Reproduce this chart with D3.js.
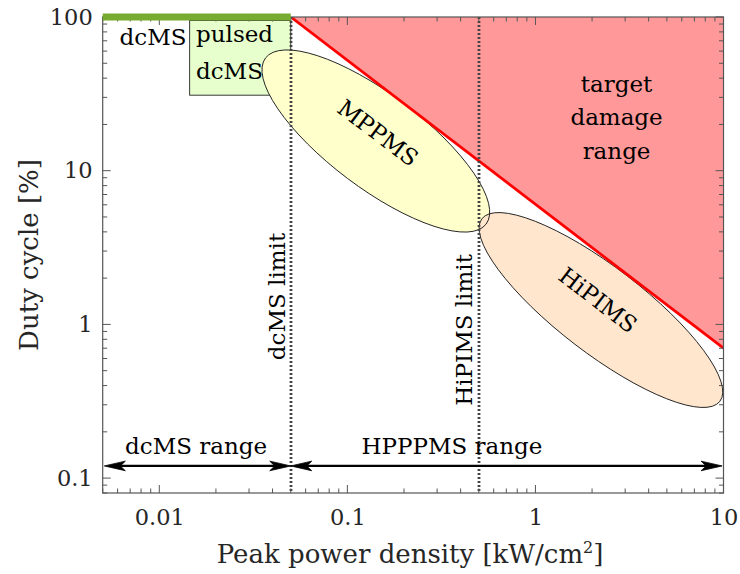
<!DOCTYPE html>
<html>
<head>
<meta charset="utf-8">
<script src="https://cdn.jsdelivr.net/npm/d3@7"></script>
<style>
  html, body { margin: 0; padding: 0; background: #fff; }
  svg { display: block; }
  text { font-family: "DejaVu Serif", "Liberation Serif", serif; }
</style>
</head>
<body>
<div id="chart"></div>
<script>
// Operating regimes of magnetron sputtering: duty cycle vs peak power density

const xDomain = [0.005, 10];
const yDomain = [0.08, 100];
const xTickLabels = [0.01, 0.1, 1, 10];
const yTickLabels = [0.1, 1, 10, 100];

// limits (kW/cm^2)
const dcmsLimit = 0.05;
const hipimsLimit = 0.5;

// damage threshold line: [peak power density, duty cycle]
const damageLine = [[0.05, 100], [10, 0.7]];

// continuous dcMS: 100 % duty cycle up to the dcMS limit
const dcmsLine = [[0.005, 100], [0.05, 100]];

// pulsed dcMS rectangle: x range, y range
const pulsedBoxX = [0.0145, 0.05];
const pulsedBoxY = [31, 95];

// elliptical regions: major-axis end points in data units, minor/major ratio
const regionNames = ["MPPMS", "HiPIMS"];
const regionTips = [
  [[0.0367, 54.1], [0.547, 4.5]],
  [[0.5195, 4.87], [9.57, 0.316]]
];
const regionRatio = [0.34, 0.287];
const regionLabelPos = [[0.1455, 17.6], [2.15, 1.44]];
const regionFill = ["#ffffcc", "#ffe6cc"];

// ranges shown as arrows at the bottom
const rangeNames = ["dcMS range", "HPPPMS range"];
const rangeSpans = [[0.0051, 0.05], [0.05, 9.83]];
const rangeArrowY = 0.12;
const rangeLabelPos = [[0.0157, 0.1435], [0.36, 0.1435]];

// free text annotations
const dcmsLabelPos = [0.00926, 65.7];
const pulsedLabelPos = [[0.01567, 68.5], [0.01567, 39.5]];
const pulsedLabelLines = ["pulsed", "dcMS"];
const damageLabelLines = ["target", "damage", "range"];
const damageLabelPos = [[2.70, 32.7], [2.70, 19.8], [2.70, 11.9]];
const limitLabels = ["dcMS limit", "HiPIMS limit"];
const limitLabelPos = [[0.0466, 1.52], [0.46, 0.92]];

const W = 740, H = 574;
const margin = { left: 102.7, top: 17, right: 16.5, bottom: 81 };
const labelSize = 23, tickSize = 22.5, titleSize = 26;

const svg = d3.select("#chart").append("svg")
  .attr("width", W).attr("height", H);

const x = d3.scaleLog().domain(xDomain).range([margin.left, W - margin.right]);
const y = d3.scaleLog().domain(yDomain).range([H - margin.bottom, margin.top]);

const x0 = x.range()[0], x1 = x.range()[1];
const y0 = y.range()[1], y1 = y.range()[0];

svg.append("defs").append("clipPath").attr("id", "plotclip")
  .append("rect").attr("x", x0).attr("y", y0).attr("width", x1 - x0).attr("height", y1 - y0);

const plot = svg.append("g").attr("clip-path", "url(#plotclip)");

// target damage area above the threshold line
const damageArea = [damageLine[0], damageLine[1], [damageLine[1][0], yDomain[1]], [damageLine[0][0], yDomain[1]]];
plot.append("path")
  .attr("d", d3.line().x(d => x(d[0])).y(d => y(d[1]))(damageArea) + "Z")
  .attr("fill", "#ff9999").attr("stroke", "none");

// pulsed dcMS box
plot.append("rect")
  .attr("x", x(pulsedBoxX[0])).attr("y", y(pulsedBoxY[1]))
  .attr("width", x(pulsedBoxX[1]) - x(pulsedBoxX[0]))
  .attr("height", y(pulsedBoxY[0]) - y(pulsedBoxY[1]))
  .attr("fill", "#e6ffcc").attr("stroke", "#222").attr("stroke-width", 0.9);

// ellipse geometry in pixel space from the data tips
const ellipses = regionTips.map((t, i) => {
  const ax = x(t[0][0]), ay = y(t[0][1]);
  const bx = x(t[1][0]), by = y(t[1][1]);
  const cx = (ax + bx) / 2, cy = (ay + by) / 2;
  const a = Math.hypot(bx - ax, by - ay) / 2;
  const ang = Math.atan2(by - ay, bx - ax) * 180 / Math.PI;
  return { cx, cy, a, b: a * regionRatio[i], ang, fill: regionFill[i] };
});

// fills first, then outlines so that overlaps keep both borders
ellipses.forEach(e => {
  plot.append("ellipse")
    .attr("cx", 0).attr("cy", 0).attr("rx", e.a).attr("ry", e.b)
    .attr("transform", `translate(${e.cx},${e.cy}) rotate(${e.ang})`)
    .attr("fill", e.fill).attr("stroke", "none");
});
ellipses.forEach(e => {
  plot.append("ellipse")
    .attr("cx", 0).attr("cy", 0).attr("rx", e.a).attr("ry", e.b)
    .attr("transform", `translate(${e.cx},${e.cy}) rotate(${e.ang})`)
    .attr("fill", "none").attr("stroke", "#222").attr("stroke-width", 0.9);
});

// damage threshold line
plot.append("path")
  .attr("d", d3.line().x(d => x(d[0])).y(d => y(d[1]))(damageLine))
  .attr("fill", "none").attr("stroke", "#ff0000").attr("stroke-width", 2.8);

// limit lines
[dcmsLimit, hipimsLimit].forEach(v => {
  plot.append("line")
    .attr("x1", Math.round(x(v))).attr("x2", Math.round(x(v))).attr("y1", y0).attr("y2", y1)
    .attr("stroke", "#444").attr("stroke-width", 2.8)
    .attr("stroke-dasharray", "2 2");
});

// region labels
regionNames.forEach((n, i) => {
  const px = x(regionLabelPos[i][0]), py = y(regionLabelPos[i][1]);
  svg.append("text")
    .attr("transform", `translate(${px},${py}) rotate(${ellipses[i].ang})`)
    .attr("text-anchor", "middle").attr("dominant-baseline", "central")
    .attr("font-size", labelSize).attr("fill", "#000")
    .text(n);
});

// axes: box with inward ticks on all four sides
const majorTickLen = 8, minorTickLen = 4.5;
function logTicks(domain) {
  const out = [];
  const lo = Math.floor(Math.log10(domain[0])), hi = Math.ceil(Math.log10(domain[1]));
  for (let p = lo; p <= hi; p++) {
    for (let m = 1; m <= 9; m++) {
      const v = +(m * Math.pow(10, p)).toPrecision(6);
      if (v >= domain[0] * 0.9999 && v <= domain[1] * 1.0001) out.push({ v, major: m === 1 });
    }
  }
  return out;
}
const xt = logTicks(xDomain), yt = logTicks(yDomain);
const axisColor = "#555";
const ticks = svg.append("g").attr("stroke", axisColor).attr("stroke-width", 1);
xt.forEach(t => {
  const L = t.major ? majorTickLen : minorTickLen;
  ticks.append("line").attr("x1", x(t.v)).attr("x2", x(t.v)).attr("y1", y1).attr("y2", y1 - L);
  ticks.append("line").attr("x1", x(t.v)).attr("x2", x(t.v)).attr("y1", y0).attr("y2", y0 + L);
});
yt.forEach(t => {
  const L = t.major ? majorTickLen : minorTickLen;
  ticks.append("line").attr("y1", y(t.v)).attr("y2", y(t.v)).attr("x1", x0).attr("x2", x0 + L);
  ticks.append("line").attr("y1", y(t.v)).attr("y2", y(t.v)).attr("x1", x1).attr("x2", x1 - L);
});
svg.append("rect").attr("x", x0).attr("y", y0).attr("width", x1 - x0).attr("height", y1 - y0)
  .attr("fill", "none").attr("stroke", axisColor).attr("stroke-width", 1.2);

// dcMS line at 100 %, drawn over the frame
svg.append("path")
  .attr("d", d3.line().x(d => x(d[0])).y(d => y(d[1]))(dcmsLine))
  .attr("fill", "none").attr("stroke", "#77ac30").attr("stroke-width", 7);

// tick labels via d3 axes
const fmt = d => String(d);
const xAxis = svg.append("g").attr("transform", `translate(0,${y1})`)
  .call(d3.axisBottom(x).tickValues(xTickLabels).tickFormat(fmt).tickSize(0).tickPadding(16));
const yAxis = svg.append("g").attr("transform", `translate(${x0},0)`)
  .call(d3.axisLeft(y).tickValues(yTickLabels).tickFormat(fmt).tickSize(0).tickPadding(10));
[xAxis, yAxis].forEach(g => {
  g.select(".domain").remove();
  g.attr("font-family", null);
  g.selectAll("text").attr("font-size", tickSize).attr("fill", "#262626");
});

// axis titles
svg.append("text")
  .attr("x", (x0 + x1) / 2 - 3).attr("y", 563)
  .attr("text-anchor", "middle").attr("font-size", titleSize)
  .attr("fill", "#262626")
  .call(t => {
    t.append("tspan").text("Peak power density [kW/cm");
    t.append("tspan").attr("font-size", 16).attr("dy", -10).text("2");
    t.append("tspan").attr("dy", 10).text("]");
  });
svg.append("text")
  .attr("transform", `translate(38,${(y0 + y1) / 2}) rotate(-90)`)
  .attr("text-anchor", "middle").attr("font-size", titleSize)
  .attr("fill", "#262626")
  .text("Duty cycle [%]");

// arrows for ranges
function arrowHead(g, tipX, tipY, dir) {
  const L = 21, hw = 4.8, notch = 5;
  const pts = [
    [tipX, tipY],
    [tipX - dir * L, tipY - hw],
    [tipX - dir * (L - notch), tipY],
    [tipX - dir * L, tipY + hw]
  ];
  g.append("path").attr("d", "M" + pts.map(p => p.join(",")).join("L") + "Z")
    .attr("fill", "#000").attr("stroke", "#000").attr("stroke-width", 0.8)
    .attr("stroke-linejoin", "miter");
}
rangeSpans.forEach((s, i) => {
  const g = svg.append("g");
  const ya = y(rangeArrowY);
  const xa = x(s[0]), xb = x(s[1]);
  g.append("line").attr("x1", xa + 8).attr("x2", xb - 8).attr("y1", ya).attr("y2", ya)
    .attr("stroke", "#000").attr("stroke-width", 2.2);
  arrowHead(g, xa, ya, -1);
  arrowHead(g, xb, ya, 1);
  svg.append("text")
    .attr("x", x(rangeLabelPos[i][0])).attr("y", y(rangeLabelPos[i][1]))
    .attr("text-anchor", "middle").attr("font-size", labelSize)
    .attr("fill", "#000").text(rangeNames[i]);
});

// text annotations
svg.append("text")
  .attr("x", x(dcmsLabelPos[0])).attr("y", y(dcmsLabelPos[1]))
  .attr("text-anchor", "middle").attr("font-size", labelSize)
  .attr("fill", "#000").text("dcMS");
pulsedLabelLines.forEach((s, i) => {
  svg.append("text")
    .attr("x", x(pulsedLabelPos[i][0])).attr("y", y(pulsedLabelPos[i][1]))
    .attr("text-anchor", "start").attr("font-size", labelSize)
    .attr("fill", "#000").text(s);
});
damageLabelLines.forEach((s, i) => {
  svg.append("text")
    .attr("x", x(damageLabelPos[i][0])).attr("y", y(damageLabelPos[i][1]))
    .attr("text-anchor", "middle").attr("font-size", labelSize)
    .attr("fill", "#000").text(s);
});
limitLabels.forEach((s, i) => {
  svg.append("text")
    .attr("transform", `translate(${x(limitLabelPos[i][0])},${y(limitLabelPos[i][1])}) rotate(-90)`)
    .attr("text-anchor", "middle").attr("font-size", labelSize)
    .attr("fill", "#000").text(s);
});
</script>
</body>
</html>
